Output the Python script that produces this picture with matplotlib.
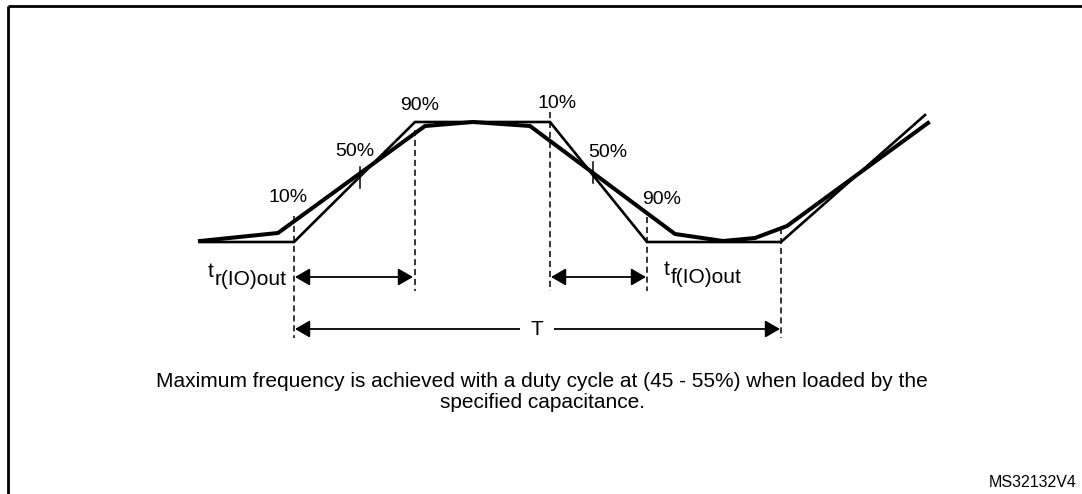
import matplotlib
matplotlib.use("Agg")
import matplotlib.pyplot as plt

plt.rcParams['font.family'] = ['Liberation Sans', 'DejaVu Sans']

# ---- data (pixel-space diagram coordinates) ----
ideal_x = [200, 294, 415, 550, 647, 781, 925]
ideal_y = [242, 242, 122, 122, 242, 242, 115]
real_x = [200, 278, 425, 473, 530, 675, 723, 755, 787, 928]
real_y = [241, 233, 126, 122, 126, 234, 241, 238, 226, 123]

dash_x = [294, 415, 550, 647, 781]
dash_top = [216, 130, 112, 217, 228]
dash_bot = [338, 291, 291, 291, 338]

tick_x = [360, 593]
tick_top = [167, 162]
tick_bot = [188, 183]

pct_labels = ["10%", "50%", "90%", "10%", "50%", "90%"]
pct_x = [288, 355, 420, 557, 608, 662]
pct_y = [197, 151, 105, 103, 152, 199]

arrow_x1 = [295, 551, 295]
arrow_x2 = [413, 646, 780]
arrow_y = [277, 277, 329]

caption = ("Maximum frequency is achieved with a duty cycle at (45 - 55%) when loaded by the\n"
           "specified capacitance.")
ref_code = "MS32132V4"

W, H = 1082, 494
fig = plt.figure(figsize=(W / 100, H / 100), dpi=100)
ax = fig.add_axes([0, 0, 1, 1])
ax.set_xlim(0, W)
ax.set_ylim(H, 0)
ax.axis('off')

# frame (top + left)
ax.plot([8, W + 5], [6, 6], color='black', lw=2.0, solid_capstyle='butt')
ax.plot([8, 8], [6, H + 5], color='black', lw=2.0, solid_capstyle='butt')

# dashed guide lines
for x, t, b in zip(dash_x, dash_top, dash_bot):
    ax.plot([x, x], [t, b], color='black', lw=1.1, linestyle=(0, (4, 2.5)))

# waveforms
ax.plot(ideal_x, ideal_y, color='black', lw=1.9, solid_joinstyle='miter')
ax.plot(real_x, real_y, color='black', lw=2.9, solid_joinstyle='round')

# 50% ticks
for x, t, b in zip(tick_x, tick_top, tick_bot):
    ax.plot([x, x], [t, b], color='black', lw=1.1)

for s, x, y in zip(pct_labels, pct_x, pct_y):
    ax.text(x, y, s, ha='center', va='center', fontsize=14)

# arrows
for x1, x2, y in zip(arrow_x1, arrow_x2, arrow_y):
    ax.annotate('', xy=(x2, y), xytext=(x1, y),
                arrowprops=dict(arrowstyle='<|-|>,head_length=9,head_width=5.2',
                                mutation_scale=1, lw=1.3, color='black',
                                shrinkA=0, shrinkB=0))

ax.text(537, 329, "T", ha='center', va='center', fontsize=15,
        bbox=dict(facecolor='white', edgecolor='none', pad=8))

# t labels
ax.text(214, 271, "t", ha='right', va='center', fontsize=15)
ax.text(215, 279, "r(IO)out", ha='left', va='center', fontsize=15)
ax.text(670, 269, "t", ha='right', va='center', fontsize=15)
ax.text(671, 277, "f(IO)out", ha='left', va='center', fontsize=15)

ax.text(542, 392, caption, ha='center', va='center', fontsize=15,
        linespacing=1.12)
ax.text(1077, 482, ref_code, ha='right', va='center', fontsize=11.5)

fig.savefig("out.png", dpi=100)
